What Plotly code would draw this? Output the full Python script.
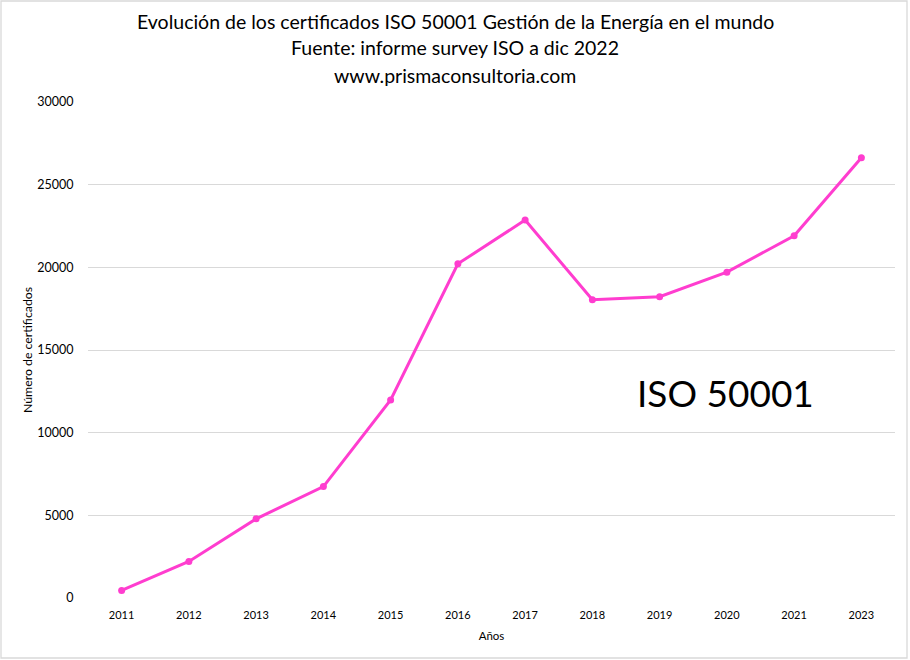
import plotly.graph_objects as go

# datos
anios = ["2011", "2012", "2013", "2014", "2015", "2016", "2017",
         "2018", "2019", "2020", "2021", "2023"]
certificados = [460, 2210, 4790, 6740, 11980, 20210, 22860,
                18040, 18220, 19710, 21910, 26630]
ticks_y = [0, 5000, 10000, 15000, 20000, 25000, 30000]

titulo = ["Evolución de los certificados ISO 50001 Gestión de la Energía en el mundo",
          "Fuente: informe survey ISO a dic 2022",
          "www.prismaconsultoria.com"]

W, H = 910, 660
ml, mr, mt, mb = 88, 15, 102, 62
ph = H - mt - mb
pw = W - ml - mr

rosa = "#FF3DCF"
fuente = "Lato"

fig = go.Figure()
fig.add_trace(go.Scatter(
    x=anios, y=certificados,
    mode="lines+markers",
    line=dict(color=rosa, width=3),
    marker=dict(color=rosa, size=7),
    showlegend=False,
))

anots = []
for txt, yy in zip(titulo, [22, 48, 76]):
    anots.append(dict(
        text=txt, xref="paper", yref="paper",
        x=0.5 - (ml - mr) / 2 / pw, y=1 + (mt - yy) / ph,
        xanchor="center", yanchor="middle", showarrow=False,
        font=dict(family=fuente, size=19.5, color="#000000"),
    ))
anots.append(dict(
    text="ISO 50001", xref="paper", yref="paper",
    x=(725 - ml) / pw, y=1 - (392 - mt) / ph,
    xanchor="center", yanchor="middle", showarrow=False,
    font=dict(family=fuente, size=37, color="#000000"),
))

fig.update_layout(
    width=W, height=H,
    margin=dict(l=ml, r=mr, t=mt, b=mb, autoexpand=False),
    paper_bgcolor="white", plot_bgcolor="white",
    font=dict(family=fuente, color="#000000"),
    annotations=anots,
    shapes=[dict(
        type="rect", xref="paper", yref="paper",
        x0=(1 - ml) / pw, x1=(907 - ml) / pw,
        y0=1 - (658 - mt) / ph, y1=1 + (mt - 1) / ph,
        line=dict(color="#D9D9D9", width=1.3),
    )],
)
fig.update_xaxes(
    type="category", automargin=False,
    range=[-0.5, len(anios) - 0.5],
    showgrid=False, showline=False, zeroline=False,
    tickfont=dict(size=11),
    ticks="outside", ticklen=7, tickcolor="rgba(0,0,0,0)",
    title=dict(text="Años", font=dict(size=11.5), standoff=11),
)
fig.update_yaxes(
    range=[0, 30000], automargin=False,
    tickvals=ticks_y, ticktext=[str(t) for t in ticks_y],
    showgrid=True, gridcolor="#D9D9D9", gridwidth=1,
    zeroline=False, showline=False,
    tickfont=dict(size=12.5),
    ticks="outside", ticklen=11, tickcolor="rgba(0,0,0,0)",
    title=dict(text="Número de certificados", font=dict(size=12.3), standoff=1),
)

fig.write_html("out.html", config={"displayModeBar": False},
               post_script="document.body.style.margin='0';")
